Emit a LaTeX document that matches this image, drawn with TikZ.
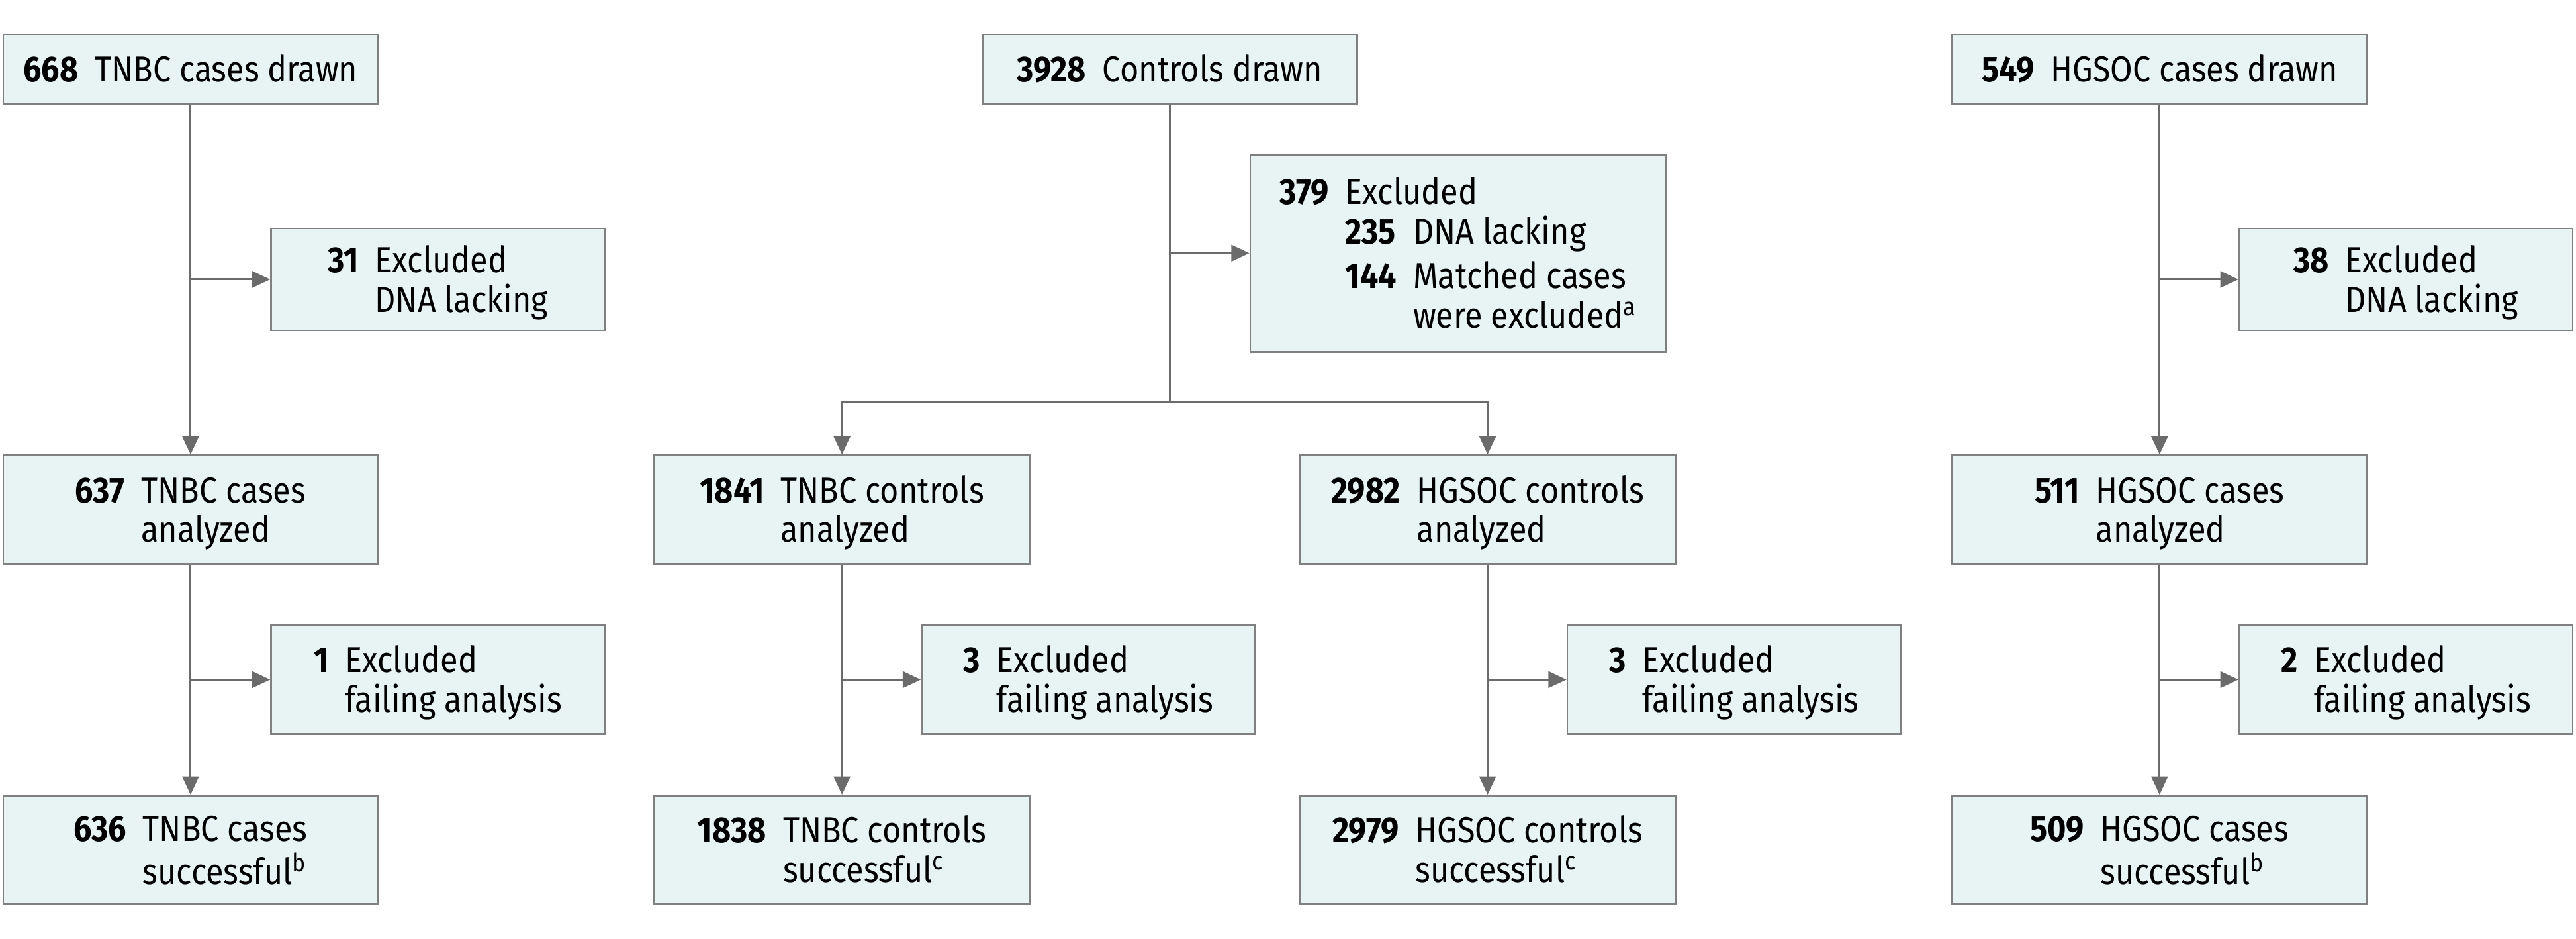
\documentclass[tikz,border=0pt]{standalone}
\usepackage{fontspec}
\setmainfont{Fira Sans}[FakeStretch=0.89]
\usetikzlibrary{arrows.meta}
\definecolor{boxfill}{HTML}{E8F3F4}
\definecolor{boxline}{HTML}{808080}
\definecolor{arrline}{HTML}{6B6B6B}
\newcommand{\cntone}[2]{\raisebox{0pt}[\dimexpr\height+6pt\relax][\depth]{\begin{tabular}{@{}l@{\hspace{10pt}}l@{}}\textbf{#1} & #2\end{tabular}}}
\newcommand{\cnt}[3]{\raisebox{0pt}[\dimexpr\height+6pt\relax][\depth]{\begin{tabular}{@{}l@{\hspace{10pt}}l@{}}\textbf{#1} & #2\\ & #3\end{tabular}}}

\begin{document}
\begin{tikzpicture}[x=1pt,y=-1pt]
\tikzstyle{every node}+=[inner sep=0pt]
\tikzstyle{box}=[draw=boxline, fill=boxfill, line width=1.1pt, minimum height=66pt, font=\fontsize{22}{24}\selectfont]
\tikzstyle{conn}=[draw=arrline, line width=1.2pt]
\tikzstyle{arr}=[conn, -{Triangle[length=11pt,width=10pt]}]
\useasboundingbox (0,0) rectangle (1568,571);
\node[box, minimum width=228pt, minimum height=42pt] (tdraw) at (116,42) {\cntone{668}{TNBC cases drawn}};
\node[box, minimum width=203pt, minimum height=62pt] (texcl) at (266.5,170) {\cnt{31}{Excluded}{DNA lacking}};
\node[box, minimum width=228pt] (tana) at (116,310) {\cnt{637}{TNBC cases}{analyzed}};
\node[box, minimum width=203pt] (tfail) at (266.5,413.5) {\cnt{1}{Excluded}{failing analysis}};
\node[box, minimum width=228pt] (tsucc) at (116,517) {\cnt{636}{TNBC cases}{successful\textsuperscript{b}}};
\node[box, minimum width=228pt, minimum height=42pt] (cdraw) at (712,42) {\cntone{3928}{Controls drawn}};
\node[box, minimum width=253pt, minimum height=120pt] (cexcl) at (887.5,154) {\raisebox{0pt}[\dimexpr\height+6pt\relax][\depth]{\begin{tabular}{@{}l@{\hspace{10pt}}l@{}}\textbf{379} & Excluded\\ & \begin{tabular}[t]{@{}l@{\hspace{10pt}}l@{}}\textbf{235} & DNA lacking\\[3pt] \textbf{144} & Matched cases\\ & were excluded\textsuperscript{a}\end{tabular}\end{tabular}}};
\coordinate (csplit) at (712,244.5);
\node[box, minimum width=229pt] (tcana) at (512.5,310) {\cnt{1841}{TNBC controls}{analyzed}};
\node[box, minimum width=203pt] (tcfail) at (662.5,413.5) {\cnt{3}{Excluded}{failing analysis}};
\node[box, minimum width=229pt] (tcsucc) at (512.5,517) {\cnt{1838}{TNBC controls}{successful\textsuperscript{c}}};
\node[box, minimum width=229pt] (hcana) at (905.5,310) {\cnt{2982}{HGSOC controls}{analyzed}};
\node[box, minimum width=203pt] (hcfail) at (1055.5,413.5) {\cnt{3}{Excluded}{failing analysis}};
\node[box, minimum width=229pt] (hcsucc) at (905.5,517) {\cnt{2979}{HGSOC controls}{successful\textsuperscript{c}}};
\node[box, minimum width=253pt, minimum height=42pt] (hdraw) at (1314.5,42) {\cntone{549}{HGSOC cases drawn}};
\node[box, minimum width=203pt, minimum height=62pt] (hexcl) at (1464.5,170) {\cnt{38}{Excluded}{DNA lacking}};
\node[box, minimum width=253pt] (hana) at (1314.5,310) {\cnt{511}{HGSOC cases}{analyzed}};
\node[box, minimum width=203pt] (hfail) at (1464.5,413.5) {\cnt{2}{Excluded}{failing analysis}};
\node[box, minimum width=253pt] (hsucc) at (1314.5,517) {\cnt{509}{HGSOC cases}{successful\textsuperscript{b}}};
\draw[arr] (tdraw) -- (tana);
\draw[arr] (tdraw |- texcl) -- (texcl);
\draw[arr] (tana) -- (tsucc);
\draw[arr] (tana |- tfail) -- (tfail);
\draw[conn] (cdraw) -- (csplit);
\draw[arr] (cdraw |- cexcl) -- (cexcl);
\draw[arr] (csplit) -| (tcana);
\draw[arr] (csplit) -| (hcana);
\draw[arr] (tcana) -- (tcsucc);
\draw[arr] (tcana |- tcfail) -- (tcfail);
\draw[arr] (hcana) -- (hcsucc);
\draw[arr] (hcana |- hcfail) -- (hcfail);
\draw[arr] (hdraw) -- (hana);
\draw[arr] (hdraw |- hexcl) -- (hexcl);
\draw[arr] (hana) -- (hsucc);
\draw[arr] (hana |- hfail) -- (hfail);
\end{tikzpicture}
\end{document}
